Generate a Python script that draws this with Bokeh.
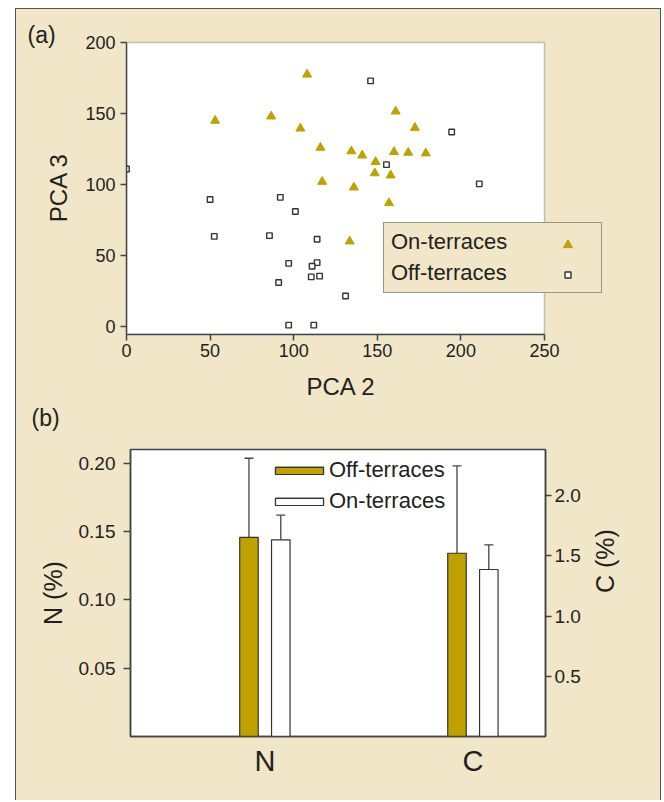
import math
import numpy as np
from bokeh.plotting import figure
from bokeh.models import (ColumnDataSource, Range1d, LinearAxis, FixedTicker, SingleIntervalTicker,
                          Legend, LegendItem, Whisker, TeeHead, PrintfTickFormatter, BoxAnnotation, Title)
from bokeh.layouts import column, row
from bokeh.transform import dodge
from bokeh.embed import file_html
from bokeh.resources import INLINE

# ---------------- data ----------------
# Panel (a): PCA scores
on_pca2 = [53, 86.5, 104, 108, 116, 117, 134.5, 136, 141, 149, 148.5, 158, 160, 161, 168.5, 172.5, 179, 157, 133.5]
on_pca3 = [145, 148, 139.5, 177.5, 126, 102, 123.5, 98, 120.5, 116, 108, 106.5, 123, 151.5, 122.5, 140, 122, 87, 60]
off_pca2 = [0, 50, 92, 101, 52.5, 85.5, 114, 97, 114, 111, 110.5, 115.5, 91, 97, 112, 131, 146, 194.5, 155.5, 211]
off_pca3 = [111, 89.5, 91, 81, 63.5, 64, 61.5, 44.5, 45, 42.5, 35, 35.5, 31, 1, 1, 21.5, 173, 137, 114, 100.5]
pca2_limits = (0, 250)
pca3_limits = (-5.6, 200)

# Panel (b): N (%) and C (%)
nutrients = ["N", "C"]
off_mean = [0.1457, 1.521]
off_err = [0.058, 0.725]
on_mean = [0.144, 1.386]
on_err = [0.018, 0.205]

# ---------------- style ----------------
BEIGE = "#F1E6C8"
GOLD = "#BFA100"
DARK = "#444444"
TXT = "#231F20"
FONT = "Liberation Sans"


def style_axis(ax, tick_size, label_size, tick_out=6, label_standoff=5, axis_standoff=12):
    ax.axis_line_color = DARK
    ax.axis_line_width = 1.5
    ax.major_tick_line_color = DARK
    ax.major_tick_line_width = 1.5
    ax.major_tick_out = tick_out
    ax.major_tick_in = 0
    ax.minor_tick_line_color = None
    ax.major_label_text_font = FONT
    ax.major_label_text_font_size = tick_size
    ax.major_label_text_color = TXT
    ax.major_label_standoff = label_standoff
    ax.axis_label_text_font = FONT
    ax.axis_label_text_font_size = label_size
    ax.axis_label_text_font_style = "normal"
    ax.axis_label_text_color = TXT
    ax.axis_label_standoff = axis_standoff


def make_title(text, offset, standoff, size="23px"):
    return Title(text=text, text_font=FONT, text_font_size=size, text_font_style="normal",
                 text_color=TXT, align="left", offset=offset, standoff=standoff)


def spacer(standoff):
    return Title(text=" ", text_font_size="1px", standoff=standoff)


# ---------------- panel (a) ----------------
# frame extends right of the data box so the legend can overhang it
p1 = figure(frame_width=477, frame_height=294, x_range=Range1d(0, 285.3), y_range=Range1d(-5.6, 201.44),
            min_border_left=110, min_border_right=57, min_border_top=31, min_border_bottom=68,
            output_backend="svg", toolbar_location=None, background_fill_color=BEIGE,
            border_fill_color=BEIGE, outline_line_color=None)
p1.add_layout(make_title("(a)", -99, -15), "above")
p1.grid.visible = False
p1.xaxis.ticker = SingleIntervalTicker(interval=50)
p1.yaxis.ticker = SingleIntervalTicker(interval=50)
p1.xaxis.bounds = pca2_limits
p1.yaxis.bounds = pca3_limits
p1.yaxis.axis_label = "PCA 3"
style_axis(p1.xaxis[0], "18px", "24px", tick_out=6, label_standoff=3, axis_standoff=12)
style_axis(p1.yaxis[0], "18px", "24px", tick_out=6, label_standoff=5, axis_standoff=10)
# x-axis title placed under the data box (not the widened frame)
p1.add_layout(spacer(8), "below")
p1.add_layout(make_title("PCA 2", 180, 0, size="24px"), "below")

p1.add_layout(BoxAnnotation(left=pca2_limits[0], right=pca2_limits[1], bottom=pca3_limits[0],
                            top=pca3_limits[1], fill_color="white", fill_alpha=1, line_color=DARK,
                            line_width=1.5, level="underlay"))

on_r = p1.scatter(on_pca2, on_pca3, marker="triangle", size=9, fill_color=GOLD,
                  line_color=GOLD, line_width=1)
off_r = p1.scatter(off_pca2, off_pca3, marker="square", size=5.5, fill_color="white",
                   line_color="#333333", line_width=1.4)
dummy = p1.scatter(x=[], y=[], marker="square", size=1, fill_alpha=0, line_alpha=0)

legA = Legend(items=[LegendItem(label="On-terraces", renderers=[dummy]),
                     LegendItem(label="Off-terraces", renderers=[dummy])],
              location=(257, 41), orientation="vertical", glyph_width=1, glyph_height=25,
              label_height=25, label_width=204, label_standoff=0, padding=6, spacing=5, margin=0,
              background_fill_color=BEIGE, background_fill_alpha=1, border_line_color=DARK,
              border_line_width=1.5, label_text_font=FONT, label_text_font_size="22px",
              label_text_color=TXT)
p1.add_layout(legA, "center")

legT = Legend(items=[LegendItem(label=" ", renderers=[on_r])], location=(430, 78),
              glyph_width=23, glyph_height=23, label_height=1, label_width=0, label_standoff=0,
              padding=0, spacing=0, margin=0, background_fill_alpha=0, border_line_alpha=0,
              label_text_font_size="1px")
legS = Legend(items=[LegendItem(label=" ", renderers=[off_r])], location=(434, 52),
              glyph_width=15, glyph_height=15, label_height=1, label_width=0, label_standoff=0,
              padding=0, spacing=0, margin=0, background_fill_alpha=0, border_line_alpha=0,
              label_text_font_size="1px")
p1.add_layout(legT, "center")
p1.add_layout(legS, "center")

# ---------------- panel (b) ----------------
pos = np.arange(1, len(nutrients) + 1)
p2 = figure(frame_width=415, frame_height=287, x_range=Range1d(0.354, 2.349), y_range=Range1d(0, 0.2101),
            min_border_left=114, min_border_right=115, min_border_top=47, min_border_bottom=64,
            output_backend="svg", toolbar_location=None, background_fill_color="white",
            border_fill_color=BEIGE, outline_line_color=DARK, outline_line_width=1.5)
p2.add_layout(spacer(16), "above")
p2.add_layout(make_title("(b)", -99, 0), "above")
p2.grid.visible = False
p2.extra_y_ranges = {"c": Range1d(0, 2.382)}

p2.yaxis.ticker = FixedTicker(ticks=[0.05, 0.10, 0.15, 0.20])
p2.yaxis.formatter = PrintfTickFormatter(format="%.2f")
p2.yaxis.axis_label = "N (%)"
style_axis(p2.yaxis[0], "19px", "25px", tick_out=7, label_standoff=8, axis_standoff=9)

raxis = LinearAxis(y_range_name="c", ticker=FixedTicker(ticks=[0.5, 1.0, 1.5, 2.0]),
                   formatter=PrintfTickFormatter(format="%.1f"), axis_label="C (%)")
style_axis(raxis, "19px", "25px", tick_out=6, label_standoff=3, axis_standoff=21)
raxis.axis_label_orientation = math.pi / 2
p2.add_layout(raxis, "right")

p2.xaxis.ticker = FixedTicker(ticks=[int(v) for v in pos])
p2.xaxis.major_label_overrides = {int(v): n for v, n in zip(pos, nutrients)}
style_axis(p2.xaxis[0], "29px", "20px", tick_out=0, label_standoff=8)

off_rs, on_rs = [], []
for i, rng in enumerate(["default", "c"]):
    src = ColumnDataSource(dict(x=[int(pos[i])], off=[off_mean[i]], off_up=[off_mean[i] + off_err[i]],
                                on=[on_mean[i]], on_up=[on_mean[i] + on_err[i]]))
    r_off = p2.vbar(x=dodge("x", -0.0765, range=p2.x_range), top="off", bottom=0, width=0.089, source=src,
                    fill_color=GOLD, line_color="#333333", line_width=1.2, y_range_name=rng)
    r_on = p2.vbar(x=dodge("x", 0.0765, range=p2.x_range), top="on", bottom=0, width=0.089, source=src,
                   fill_color="white", line_color="#333333", line_width=1.2, y_range_name=rng)
    off_rs.append(r_off)
    on_rs.append(r_on)
    for base, lo, up in [(dodge("x", -0.0765, range=p2.x_range), "off", "off_up"),
                         (dodge("x", 0.0765, range=p2.x_range), "on", "on_up")]:
        p2.add_layout(Whisker(source=src, base=base, lower=lo, upper=up, dimension="height",
                              upper_head=TeeHead(size=9, line_color=DARK, line_width=1.3),
                              lower_head=None, line_color=DARK, line_width=1.3, y_range_name=rng))

legB = Legend(items=[LegendItem(label="Off-terraces", renderers=off_rs),
                     LegendItem(label="On-terraces", renderers=on_rs)],
              location=(139, 222), glyph_width=60, glyph_height=9, label_height=24, label_standoff=0,
              padding=0, spacing=5, margin=0, background_fill_alpha=0, border_line_alpha=0,
              label_text_font=FONT, label_text_font_size="22px", label_text_color=TXT)
p2.add_layout(legB, "center")

layout = column(row(p1), row(p2), margin=(8, 0, 0, 15),
                styles={"background-color": BEIGE, "border-left": "1.5px solid #555555",
                        "border-top": "1.5px solid #555555", "border-right": "1.5px solid #555555"})

open("out.html", "w").write(file_html(layout, INLINE))
